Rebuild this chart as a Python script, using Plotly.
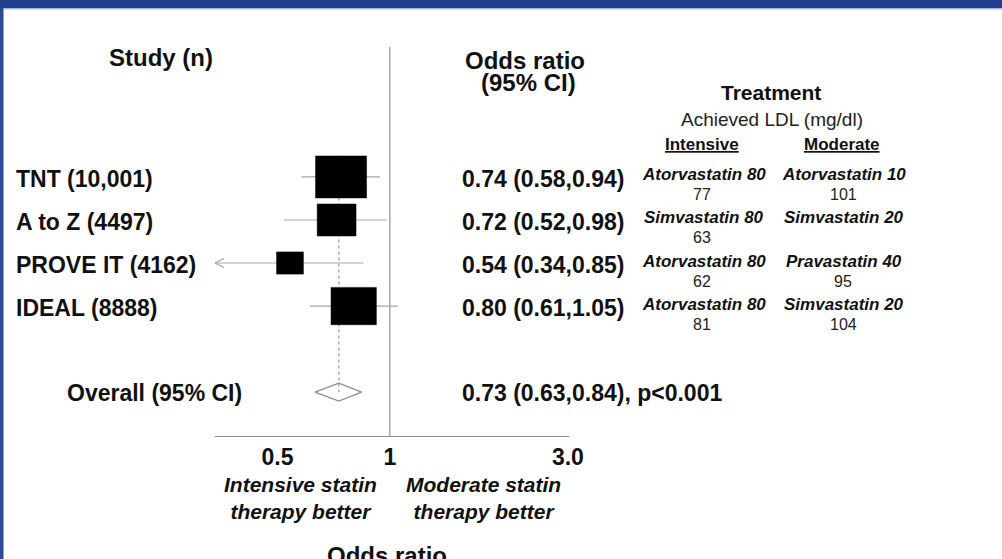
import math
import plotly.graph_objects as go

# ---- data -------------------------------------------------------------
studies = ["TNT", "A to Z", "PROVE IT", "IDEAL"]
patients = ["10,001", "4497", "4162", "8888"]
odds = [0.74, 0.72, 0.54, 0.80]
ci_low = [0.58, 0.52, 0.34, 0.61]
ci_high = [0.94, 0.98, 0.85, 1.05]

intensive_drug = ["Atorvastatin 80", "Simvastatin 80", "Atorvastatin 80", "Atorvastatin 80"]
intensive_ldl = [77, 63, 62, 81]
moderate_drug = ["Atorvastatin 10", "Simvastatin 20", "Pravastatin 40", "Simvastatin 20"]
moderate_ldl = [101, None, 95, 104]

overall_or = 0.73
overall_low = 0.63
overall_high = 0.84
overall_p = "p<0.001"

tick_values = [0.5, 1, 3]
tick_labels = ["0.5", "1", "3.0"]

# ---- layout geometry (pixels) -----------------------------------------
FIG_W, FIG_H = 1002, 559
PLOT_L, PLOT_R = 215, 569
PLOT_T, PLOT_B = 47, 436
PW, PH = PLOT_R - PLOT_L, PLOT_B - PLOT_T

X_MIN, X_MAX = 0.34, 3.02
XR = [math.log10(X_MIN), math.log10(X_MAX)]
PX_PER_DEC = PW / (XR[1] - XR[0])

ROW_TOP, ROW_BOTTOM = -3.02, 6.02          # y range (reversed)
PX_PER_ROW = PH / (ROW_BOTTOM - ROW_TOP)
rows = list(range(len(studies)))
overall_row = len(studies) + 1

FONT = "Liberation Sans, Arial, Helvetica, sans-serif"
INK = "#111111"
GREY = "#a6a6a6"


def px(x):
    return (x - PLOT_L) / PW


def py(y):
    return (PLOT_B - y) / PH


# box size from inverse-variance weight (area proportional to weight)
def weight(lo, hi):
    se = (math.log(hi) - math.log(lo)) / 3.92
    return 1.0 / se ** 2


weights = [weight(l, h) for l, h in zip(ci_low, ci_high)]
w_max = max(weights)
BOX_W_PX, BOX_H_PX = 51, 42

fig = go.Figure()

# reference line at OR = 1
fig.add_trace(go.Scatter(x=[1, 1], y=[ROW_TOP, ROW_BOTTOM], mode="lines",
                         line=dict(color="#9a9a9a", width=1.3),
                         hoverinfo="skip", showlegend=False))

# dotted line through the pooled estimate
fig.add_trace(go.Scatter(x=[overall_or, overall_or], y=[-0.5, overall_row],
                         mode="lines", line=dict(color=GREY, width=1.4, dash="dot"),
                         hoverinfo="skip", showlegend=False))

# confidence intervals
ci_x, ci_y = [], []
for r, lo, hi in zip(rows, ci_low, ci_high):
    ci_x += [lo, hi, None]
    ci_y += [r, r, None]
fig.add_trace(go.Scatter(x=ci_x, y=ci_y, mode="lines",
                         line=dict(color=GREY, width=1.2),
                         hoverinfo="skip", showlegend=False))

# open arrow heads where the interval runs off the axis
ARROW_DX = 9 / PX_PER_DEC
ARROW_DY = 4.5 / PX_PER_ROW
for r, lo in zip(rows, ci_low):
    if lo <= X_MIN:
        fig.add_trace(go.Scatter(
            x=[lo * 10 ** ARROW_DX, lo, lo * 10 ** ARROW_DX],
            y=[r - ARROW_DY, r, r + ARROW_DY], mode="lines",
            line=dict(color=GREY, width=1.2),
            hoverinfo="skip", showlegend=False))

# study boxes, drawn on top of the interval lines
for r, o, w in zip(rows, odds, weights):
    s = math.sqrt(w / w_max)
    half_dec = s * BOX_W_PX / 2 / PX_PER_DEC
    half_row = s * BOX_H_PX / 2 / PX_PER_ROW
    lo = o * 10 ** (-half_dec)
    hi = o * 10 ** (half_dec)
    fig.add_trace(go.Scatter(
        x=[lo, hi, hi, lo, lo],
        y=[r - half_row, r - half_row, r + half_row, r + half_row, r - half_row],
        mode="lines", fill="toself", fillcolor="black",
        line=dict(color="black", width=0.5),
        hoverinfo="skip", showlegend=False))

# pooled diamond
DIA_H = 8.9 / PX_PER_ROW
fig.add_trace(go.Scatter(
    x=[overall_low, overall_or, overall_high, overall_or, overall_low],
    y=[overall_row, overall_row - DIA_H, overall_row, overall_row + DIA_H, overall_row],
    mode="lines", line=dict(color="#8c8c8c", width=1.2),
    hoverinfo="skip", showlegend=False))

ann = []


def text(x, y, s, size, xanchor="center", yref="paper", color=INK, yshift=0):
    ann.append(dict(x=x, y=y, xref="paper", yref=yref, text=s, showarrow=False,
                    xanchor=xanchor, yanchor="middle", yshift=yshift,
                    font=dict(family=FONT, size=size, color=color)))


# column headers
text(px(161), py(58), "<b>Study (n)</b>", 24)
text(px(525), py(60), "<b>Odds ratio</b>", 24)
text(px(528), py(82), "<b>(95% CI)</b>", 24)
text(px(771), py(93), "<b>Treatment</b>", 21)
text(px(772), py(119), "Achieved LDL (mg/dl)", 19, color="#222222")
text(px(702), py(144), "<b><u>Intensive</u></b>", 17)
text(px(842), py(144), "<b><u>Moderate</u></b>", 17)

# per-study rows
for r, name, n, o, lo, hi, d1, l1, d2, l2 in zip(
        rows, studies, patients, odds, ci_low, ci_high,
        intensive_drug, intensive_ldl, moderate_drug, moderate_ldl):
    text(px(14), r, f"<b>{name} ({n})</b>", 23, xanchor="left", yref="y", yshift=-2)
    text(px(460), r, f"<b>{o:.2f} ({lo:.2f},{hi:.2f})</b>", 23,
         xanchor="left", yref="y", yshift=-2)
    text(px(704), r, f"<b><i>{d1}</i></b>", 17, yref="y", yshift=2)
    text(px(702), r, str(l1), 16, yref="y", yshift=-18, color="#222222")
    text(px(844), r, f"<b><i>{d2}</i></b>", 17, yref="y", yshift=2)
    if l2 is not None:
        text(px(843), r, str(l2), 16, yref="y", yshift=-18, color="#222222")

# pooled row
text(px(65), overall_row, "<b>Overall (95% CI)</b>", 23, xanchor="left", yref="y", yshift=-1)
text(px(460), overall_row,
     f"<b>{overall_or:.2f} ({overall_low:.2f},{overall_high:.2f}), {overall_p}</b>", 23,
     xanchor="left", yref="y", yshift=-1)

# direction captions and axis title
text(px(300), py(498), "<b><i>Intensive statin<br>therapy better</i></b>", 21)
text(px(483), py(498), "<b><i>Moderate statin<br>therapy better</i></b>", 21)
text(px(387), py(555), "<b>Odds ratio</b>", 24)

fig.update_layout(
    width=FIG_W, height=FIG_H,
    margin=dict(l=PLOT_L, r=FIG_W - PLOT_R, t=PLOT_T, b=FIG_H - PLOT_B, pad=0),
    paper_bgcolor="white", plot_bgcolor="white",
    font=dict(family=FONT, color=INK),
    annotations=ann,
    shapes=[
        # white strip along the right edge of the page
        dict(type="rect", xref="paper", yref="paper",
             x0=px(992), x1=px(FIG_W + 2), y0=py(FIG_H + 2), y1=py(-2),
             fillcolor="white", line=dict(width=0), layer="above"),
        # slide header band and side stripe
        dict(type="rect", xref="paper", yref="paper",
             x0=px(0), x1=px(FIG_W), y0=py(8), y1=py(0),
             fillcolor="#1f3e8d", line=dict(width=0), layer="above"),
        dict(type="rect", xref="paper", yref="paper",
             x0=px(0), x1=px(FIG_W), y0=py(9.5), y1=py(8),
             fillcolor="#a9b8de", line=dict(width=0), layer="above"),
        dict(type="rect", xref="paper", yref="paper",
             x0=px(0), x1=px(3.5), y0=py(FIG_H), y1=py(8),
             fillcolor="#2b4b9c", line=dict(width=0), layer="above"),
    ],
    xaxis=dict(type="log", range=XR, showgrid=False, zeroline=False,
               showline=True, linecolor="#8a8a8a", linewidth=1.4,
               ticks="", tickvals=tick_values,
               ticktext=[f"<b>{t}</b>" for t in tick_labels],
               tickfont=dict(family=FONT, size=23, color=INK),
               ticklabelstandoff=0, fixedrange=True),
    yaxis=dict(range=[ROW_BOTTOM, ROW_TOP], visible=False, fixedrange=True),
)

fig.write_html("out.html")
